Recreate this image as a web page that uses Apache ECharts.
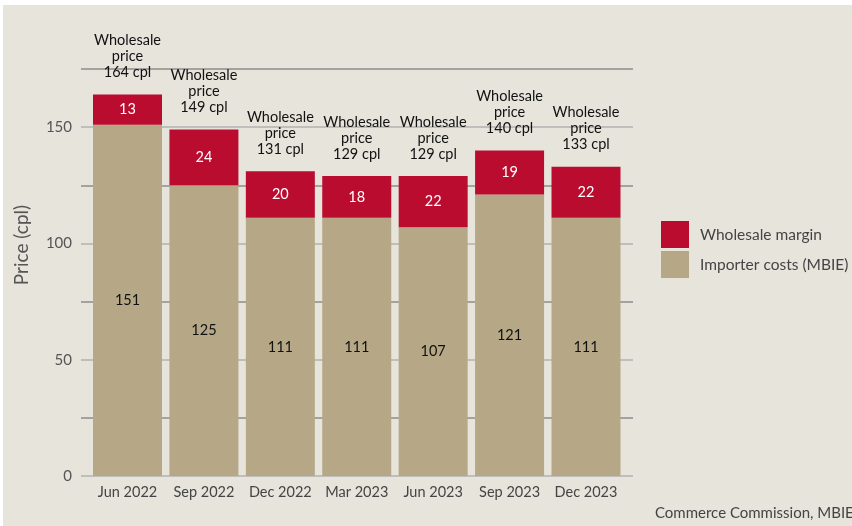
<!DOCTYPE html>
<html>
<head>
<meta charset="utf-8">
<script src="https://cdn.jsdelivr.net/npm/echarts@6/dist/echarts.min.js"></script>
<style>
  html, body { margin: 0; padding: 0; background: #ffffff; }
  #wrap { position: relative; width: 852px; height: 526px; background: #ffffff; overflow: hidden; }
  #chart { position: absolute; left: 3px; top: 5px; width: 849px; height: 521px; background: #e7e4dc; }
</style>
</head>
<body>
<div id="wrap"><div id="chart"></div></div>
<script>
const categories = ['Jun 2022', 'Sep 2022', 'Dec 2022', 'Mar 2023', 'Jun 2023', 'Sep 2023', 'Dec 2023'];
const importerCosts = [151, 125, 111, 111, 107, 121, 111];
const wholesaleMargin = [13, 24, 20, 18, 22, 19, 22];
const wholesalePrice = [164, 149, 131, 129, 129, 140, 133];
const yTicks = [0, 25, 50, 75, 100, 125, 150, 175];

const FONT = 'Lato, "Open Sans", sans-serif';
const chart = echarts.init(document.getElementById('chart'));
const option = {
  backgroundColor: '#e7e4dc',
  animation: false,
  textStyle: { fontFamily: FONT },
  grid: [
    { left: 78, width: 552, top: 64, height: 407 },
    { left: 86.3, width: 534.9, top: 64, height: 407 }
  ],
  xAxis: [
    { gridIndex: 0, type: 'value', min: 0, max: 1, show: false },
    {
      gridIndex: 1, type: 'category', data: categories,
      axisLine: { show: false }, axisTick: { show: false },
      axisLabel: { interval: 0, color: '#444', fontSize: 14.5, margin: 9, fontFamily: FONT }
    }
  ],
  yAxis: [
    {
      gridIndex: 0, type: 'value', min: yTicks[0], max: yTicks[yTicks.length - 1], interval: 25,
      axisLine: { show: false }, axisTick: { show: false },
      axisLabel: {
        color: '#555', fontSize: 15, margin: 9, fontFamily: FONT,
        formatter: v => (v % 50 === 0 ? String(v) : '')
      },
      splitLine: { show: true, lineStyle: { color: ['#b2b2b2', '#8c8c8c'], width: 1.5 } }
    },
    {
      gridIndex: 1, type: 'value', min: 0, max: 175, interval: 25, show: false,
      splitLine: { show: false }
    }
  ],
  legend: {
    orient: 'vertical', left: 658, top: 216, padding: 0,
    itemWidth: 28, itemHeight: 27, itemGap: 3, icon: 'rect',
    data: ['Wholesale margin', 'Importer costs (MBIE)'],
    textStyle: { color: '#444', fontSize: 15.5, fontFamily: FONT, padding: [0, 0, 0, 6] }
  },
  graphic: [
    {
      type: 'text', x: 19, y: 240, rotation: Math.PI / 2,
      style: { text: 'Price (cpl)', fill: '#555', font: '19px ' + FONT, textAlign: 'center', textVerticalAlign: 'middle' }
    },
    {
      type: 'text', x: 652, y: 508,
      style: { text: 'Commerce Commission, MBIE', fill: '#444', font: '15px ' + FONT, textVerticalAlign: 'middle' }
    }
  ],
  series: [
    {
      name: 'Importer costs (MBIE)', type: 'bar', stack: 'p',
      xAxisIndex: 1, yAxisIndex: 1, barWidth: 69,
      data: importerCosts,
      itemStyle: { color: '#b6a886' },
      label: { show: true, position: 'inside', color: '#111', fontSize: 14.5, fontFamily: FONT }
    },
    {
      name: 'Wholesale margin', type: 'bar', stack: 'p',
      xAxisIndex: 1, yAxisIndex: 1, barWidth: 69,
      data: wholesaleMargin,
      itemStyle: { color: '#ba0c2f' },
      label: { show: true, position: 'inside', color: '#fff', fontSize: 14.5, fontFamily: FONT }
    },
    {
      name: 'total', type: 'bar', stack: 'p',
      xAxisIndex: 1, yAxisIndex: 1, barWidth: 69,
      data: wholesalePrice.map(() => 0),
      itemStyle: { color: 'transparent' },
      label: {
        show: true, position: 'top', distance: 14, color: '#111', fontSize: 14.5, lineHeight: 16, fontFamily: FONT,
        formatter: p => 'Wholesale\nprice\n' + wholesalePrice[p.dataIndex] + ' cpl'
      }
    }
  ]
};
chart.setOption(option);
</script>
</body>
</html>
